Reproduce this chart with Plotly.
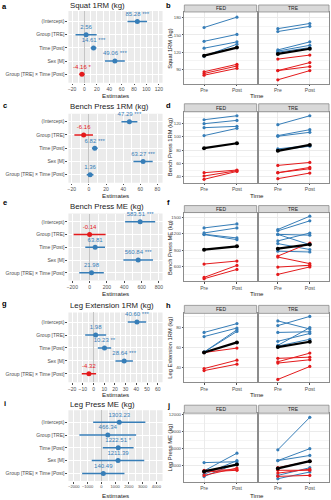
import plotly.graph_objects as go

W, H = 331, 500
BLUE, RED, BLACK = "#377EB8", "#E41A1C", "#000000"
FONT = "Liberation Sans"

terms = ["(Intercept)", "Group [TRE]", "Time [Post]", "Sex [M]", "Group [TRE] × Time [Post]"]
times = ["Pre", "Post"]
groups = ["FED", "TRE"]
titles = ["Squat 1RM (kg)", "Bench Press 1RM (kg)", "Bench Press ME (kg)",
          "Leg Extension 1RM (kg)", "Leg Press ME (kg)"]
letters = [("a", "b"), ("c", "d"), ("e", "f"), ("g", "h"), ("i", "j")]

# ---- model estimates (left panels) ----
squat_est = [85.28, 2.56, 14.61, 49.06, -4.16]
squat_lo = [69.5, -14.5, 10.0, 33.0, -8.2]
squat_hi = [101.0, 19.6, 19.2, 65.1, -0.1]
squat_sig = ["***", "", "***", "***", "*"]

bench_est = [47.29, -6.16, 6.82, 63.27, 1.36]
bench_lo = [38.0, -17.0, 3.5, 52.0, -2.6]
bench_hi = [56.6, 4.7, 10.1, 74.5, 5.3]
bench_sig = ["***", "", "***", "***", ""]

benchme_est = [583.51, -0.14, 63.81, 560.84, 21.98]
benchme_lo = [410, -185, -50, 390, -120]
benchme_hi = [757, 185, 178, 732, 164]
benchme_sig = ["***", "", "", "***", ""]

legext_est = [40.60, 1.98, 10.23, 28.64, -4.32]
legext_lo = [32.0, -7.8, 4.0, 20.5, -11.0]
legext_hi = [49.2, 11.8, 16.5, 36.8, 2.4]
legext_sig = ["***", "", "**", "***", ""]

legpress_est = [1303.23, 466.34, 1222.51, 1211.39, 140.49]
legpress_lo = [-600, -1600, 100, -700, -1400]
legpress_hi = [3200, 2530, 2345, 3120, 1680]
legpress_sig = ["", "", "*", "", ""]

# ---- individual data (right panels) ----
squat_fed_pre = [163, 139, 127, 113, 86, 83, 80]
squat_fed_post = [181, 151, 138, 134, 99, 96, 92]
squat_fed_sex = ["M", "M", "M", "M", "F", "F", "F"]
squat_fed_mean = [114, 128]
squat_tre_pre = [161, 156, 124, 122, 120, 108, 88, 88, 72]
squat_tre_post = [170, 165, 138, 132, 128, 115, 102, 95, 88]
squat_tre_sex = ["M", "M", "M", "M", "M", "F", "F", "F", "F"]
squat_tre_mean = [117, 126]

bench_fed_pre = [126, 120, 114, 102, 46, 41, 36]
bench_fed_post = [132, 125, 116, 113, 50, 49, 48]
bench_fed_sex = ["M", "M", "M", "M", "F", "F", "F"]
bench_fed_mean = [83, 90.5]
bench_tre_pre = [118.5, 102, 101, 82, 80, 57, 46, 46, 37]
bench_tre_post = [132, 111, 107, 87, 86, 61.5, 54, 52, 45.5]
bench_tre_sex = ["M", "M", "M", "M", "M", "F", "F", "F", "F"]
bench_tre_mean = [79, 88]

benchme_fed_pre = [1309, 1216, 1192, 1186, 643, 396, 372]
benchme_fed_post = [1383, 1309, 1124, 1093, 698, 618, 544]
benchme_fed_sex = ["M", "M", "M", "M", "F", "F", "F"]
benchme_fed_mean = [908, 970]
benchme_tre_pre = [1280, 1255, 1190, 1190, 1070, 1020, 880, 790, 772, 587, 452]
benchme_tre_post = [1525, 1440, 1000, 1175, 1215, 910, 865, 1030, 650, 620, 590]
benchme_tre_sex = ["M", "M", "M", "M", "M", "M", "M", "F", "F", "F", "F"]
benchme_tre_mean = [927, 1005]

legext_fed_pre = [74.6, 70.5, 55, 55, 54.6, 38.6, 36.6]
legext_fed_post = [83.4, 79, 77.3, 75.6, 59, 47, 43]
legext_fed_sex = ["M", "M", "M", "M", "F", "F", "F"]
legext_fed_mean = [54.6, 64.7]
legext_tre_pre = [86.1, 81.4, 74.6, 65.8, 61.7, 61, 48.8, 45.4, 44.1, 27.8]
legext_tre_post = [78, 90.6, 75.3, 73.6, 79.4, 67.8, 50, 54, 47.4, 40.7]
legext_tre_sex = ["M", "M", "M", "M", "M", "M", "F", "F", "F", "F"]
legext_tre_mean = [60, 65.3]

legpress_fed_pre = [3550, 2100, 1500, 1100, 2200, 1900, 1300]
legpress_fed_post = [3700, 5200, 3900, 3400, 2300, 2200, 2600]
legpress_fed_sex = ["M", "M", "M", "M", "F", "F", "F"]
legpress_fed_mean = [2000, 3200]
legpress_tre_pre = [5800, 3900, 3900, 1300, 720, 2650, 2200, 1700, 1130]
legpress_tre_post = [11500, 6000, 4800, 2650, 1900, 3800, 2200, 2400, 1300]
legpress_tre_sex = ["M", "M", "M", "M", "M", "F", "F", "F", "F"]
legpress_tre_mean = [2530, 3800]

rows = [
    dict(est=squat_est, lo=squat_lo, hi=squat_hi, sig=squat_sig, xr=[-26, 126], dt=20, xf=5.0,
         fed=(squat_fed_pre, squat_fed_post, squat_fed_sex, squat_fed_mean),
         tre=(squat_tre_pre, squat_tre_post, squat_tre_sex, squat_tre_mean),
         yr=[65, 190], ydt=30),
    dict(est=bench_est, lo=bench_lo, hi=bench_hi, sig=bench_sig, xr=[-24, 86], dt=20, xf=5.0,
         fed=(bench_fed_pre, bench_fed_post, bench_fed_sex, bench_fed_mean),
         tre=(bench_tre_pre, bench_tre_post, bench_tre_sex, bench_tre_mean),
         yr=[31, 138], ydt=20),
    dict(est=benchme_est, lo=benchme_lo, hi=benchme_hi, sig=benchme_sig, xr=[-245, 842], dt=200, xf=5.0,
         fed=(benchme_fed_pre, benchme_fed_post, benchme_fed_sex, benchme_fed_mean),
         tre=(benchme_tre_pre, benchme_tre_post, benchme_tre_sex, benchme_tre_mean),
         yr=[322, 1592], ydt=300),
    dict(est=legext_est, lo=legext_lo, hi=legext_hi, sig=legext_sig, xr=[-23.5, 64.5], dt=10, xf=5.0,
         fed=(legext_fed_pre, legext_fed_post, legext_fed_sex, legext_fed_mean),
         tre=(legext_tre_pre, legext_tre_post, legext_tre_sex, legext_tre_mean),
         yr=[25, 93.6], ydt=20),
    dict(est=legpress_est, lo=legpress_lo, hi=legpress_hi, sig=legpress_sig, xr=[-2400, 4450], dt=1000, xf=4.1,
         fed=(legpress_fed_pre, legpress_fed_post, legpress_fed_sex, legpress_fed_mean),
         tre=(legpress_tre_pre, legpress_tre_post, legpress_tre_sex, legpress_tre_mean),
         yr=[135, 12230], ydt=3000),
]

# ---- geometry (pixels) ----
geo = [
    dict(title=5, left=(10, 82), cr=[4.65, -0.8], strip=(4, 11), right=(11, 83), xt=94.5, ll=6, lr=5),
    dict(title=106, left=(113, 182), cr=[4.6, -0.6], strip=(103, 111), right=(111, 182), xt=194.5, ll=105, lr=105),
    dict(title=206, left=(213, 280), cr=[4.6, -0.65], strip=(205, 212), right=(212, 281), xt=293.5, ll=202, lr=202),
    dict(title=305, left=(312, 382), cr=[4.65, -0.75], strip=(305, 313), right=(313, 382), xt=394.5, ll=303, lr=305),
    dict(title=404, left=(410, 481), cr=[4.6, -0.95], strip=(405, 413), right=(413, 482), xt=495, ll=403, lr=405),
]
LX = (67, 162)
FX = (184, 257)
TX = (259, 330)


def fx(p):
    return p / W


def fy(p):
    return 1 - p / H


def nm(i):
    return "" if i == 1 else str(i)


fig = go.Figure()
layout = {}
ann = []
shapes = []
TICKF = dict(size=5.0, color="#4D4D4D", family=FONT)
BORDER = "#8C8C8C"

for r, row in enumerate(rows):
    g = geo[r]
    ia, ib, ic = 3 * r + 1, 3 * r + 2, 3 * r + 3

    # ---------- left coefficient panel ----------
    for positive, col in ((True, BLUE), (False, RED)):
        idx = [k for k, v in enumerate(row["est"]) if (v >= 0) == positive]
        if not idx:
            continue
        xs = [row["est"][k] for k in idx]
        ys = [terms[k] for k in idx]
        labels = [f"{row['est'][k]:.2f}" + ((" " + row["sig"][k]) if row["sig"][k] else "") for k in idx]
        fig.add_trace(go.Scatter(
            x=xs, y=ys, mode="markers+text", text=labels, textposition="top center",
            textfont=dict(size=6, color=col, family=FONT),
            marker=dict(size=5, color=col),
            error_x=dict(type="data", symmetric=False,
                         array=[row["hi"][k] - row["est"][k] for k in idx],
                         arrayminus=[row["est"][k] - row["lo"][k] for k in idx],
                         color=col, thickness=1.5, width=0),
            xaxis="x" + nm(ia), yaxis="y" + nm(ia), showlegend=False, cliponaxis=False,
            hoverinfo="skip"))
    layout["xaxis" + nm(ia)] = dict(
        domain=[fx(LX[0]), fx(LX[1])], range=row["xr"], tick0=0, dtick=row["dt"],
        anchor="y" + nm(ia), showgrid=True, gridcolor="white", gridwidth=0.8,
        minor=dict(tick0=0, dtick=row["dt"] / 2, showgrid=True, gridcolor="white", gridwidth=0.4),
        zeroline=True, zerolinecolor="#C4C4C4", zerolinewidth=1,
        ticks="outside", ticklen=1.5, tickcolor="#4D4D4D", tickwidth=0.6, tickangle=0,
        tickfont=dict(size=row["xf"], color="#4D4D4D", family=FONT), tickformat="d", showline=False)
    layout["yaxis" + nm(ia)] = dict(
        domain=[fy(g["left"][1]), fy(g["left"][0])], type="category",
        categoryorder="array", categoryarray=terms, range=g["cr"],
        anchor="x" + nm(ia), showgrid=True, gridcolor="white", gridwidth=0.8,
        ticks="outside", ticklen=2, tickcolor="#4D4D4D", tickwidth=0.6, tickangle=0,
        tickfont=TICKF, zeroline=False, showline=False)
    shapes.append(dict(type="rect", xref="x" + nm(ia) + " domain", yref="y" + nm(ia) + " domain",
                       x0=0, x1=1, y0=0, y1=1, fillcolor="#EBEBEB", line=dict(width=0), layer="below"))
    ann.append(dict(text=titles[r], x=fx(LX[0]), y=fy(g["title"]), xref="paper", yref="paper",
                    xanchor="left", yanchor="middle", showarrow=False,
                    font=dict(size=7.8, color="#1A1A1A", family=FONT)))
    ann.append(dict(text="Estimates", x=fx((LX[0] + LX[1]) / 2), y=fy(g["xt"]), xref="paper", yref="paper",
                    xanchor="center", yanchor="middle", showarrow=False,
                    font=dict(size=6.2, color="#1A1A1A", family=FONT)))
    ann.append(dict(text="<b>" + letters[r][0] + "</b>", x=fx(3), y=fy(g["ll"]), xref="paper", yref="paper",
                    xanchor="center", yanchor="middle", showarrow=False,
                    font=dict(size=7.5, color="#000", family=FONT)))
    ann.append(dict(text="<b>" + letters[r][1] + "</b>", x=fx(168), y=fy(g["lr"]), xref="paper", yref="paper",
                    xanchor="center", yanchor="middle", showarrow=False,
                    font=dict(size=7.5, color="#000", family=FONT)))

    # ---------- right spaghetti panels ----------
    for gi, (key, ai, XD) in enumerate((("fed", ib, FX), ("tre", ic, TX))):
        pre, post, sex, mean = row[key]
        for p0, p1, s in zip(pre, post, sex):
            col = BLUE if s == "M" else RED
            fig.add_trace(go.Scatter(
                x=times, y=[p0, p1], mode="lines+markers",
                line=dict(color=col, width=1), marker=dict(size=3.2, color=col),
                xaxis="x" + nm(ai), yaxis="y" + nm(ai), showlegend=False, hoverinfo="skip"))
        fig.add_trace(go.Scatter(
            x=times, y=mean, mode="lines+markers",
            line=dict(color=BLACK, width=2.2), marker=dict(size=4, color=BLACK),
            xaxis="x" + nm(ai), yaxis="y" + nm(ai), showlegend=False, hoverinfo="skip"))
        layout["xaxis" + nm(ai)] = dict(
            domain=[fx(XD[0]), fx(XD[1])], type="category", categoryorder="array",
            categoryarray=times, range=[-0.6, 1.6], anchor="y" + nm(ai),
            showgrid=True, gridcolor="#EBEBEB", gridwidth=0.8,
            ticks="outside", ticklen=1.5, tickcolor="#4D4D4D", tickwidth=0.6, tickangle=0, tickfont=TICKF,
            showline=True, mirror=True, linecolor=BORDER, linewidth=0.8, zeroline=False)
        layout["yaxis" + nm(ai)] = dict(
            domain=[fy(g["right"][1]), fy(g["right"][0])], range=row["yr"], tick0=0, dtick=row["ydt"],
            anchor="x" + nm(ai), showgrid=True, gridcolor="#EBEBEB", gridwidth=0.8,
            minor=dict(tick0=0, dtick=row["ydt"] / 2, showgrid=True, gridcolor="#F4F4F4", gridwidth=0.4),
            showticklabels=(gi == 0), ticks="outside" if gi == 0 else "", ticklen=1.5,
            tickcolor="#4D4D4D", tickwidth=0.6, tickangle=0,
            tickfont=dict(size=4.4, color="#4D4D4D", family=FONT), tickformat="d",
            showline=True, mirror=True, linecolor=BORDER, linewidth=0.8, zeroline=False)
        shapes.append(dict(type="rect", xref="paper", yref="paper",
                           x0=fx(XD[0]), x1=fx(XD[1]), y0=fy(g["strip"][1]), y1=fy(g["strip"][0]),
                           fillcolor="#D9D9D9", line=dict(color=BORDER, width=0.8), layer="above"))
        ann.append(dict(text=groups[gi], x=fx((XD[0] + XD[1]) / 2), y=fy((g["strip"][0] + g["strip"][1]) / 2),
                        xref="paper", yref="paper", xanchor="center", yanchor="middle", showarrow=False,
                        font=dict(size=5.0, color="#1A1A1A", family=FONT)))
    ann.append(dict(text=titles[r], x=fx(169.5), y=fy((g["right"][0] + g["right"][1]) / 2),
                    xref="paper", yref="paper", xanchor="center", yanchor="middle", textangle=-90,
                    showarrow=False, font=dict(size=5.8, color="#1A1A1A", family=FONT)))
    ann.append(dict(text="Time", x=fx((FX[0] + TX[1]) / 2), y=fy(g["xt"]), xref="paper", yref="paper",
                    xanchor="center", yanchor="middle", showarrow=False,
                    font=dict(size=6.2, color="#1A1A1A", family=FONT)))

fig.update_layout(
    width=W, height=H, autosize=False, margin=dict(l=0, r=0, t=0, b=0),
    paper_bgcolor="white", plot_bgcolor="white",
    font=dict(family=FONT, size=6, color="#1A1A1A"),
    annotations=ann, shapes=shapes, showlegend=False, **layout)

fig.write_html("out.html", config={"displayModeBar": False})
